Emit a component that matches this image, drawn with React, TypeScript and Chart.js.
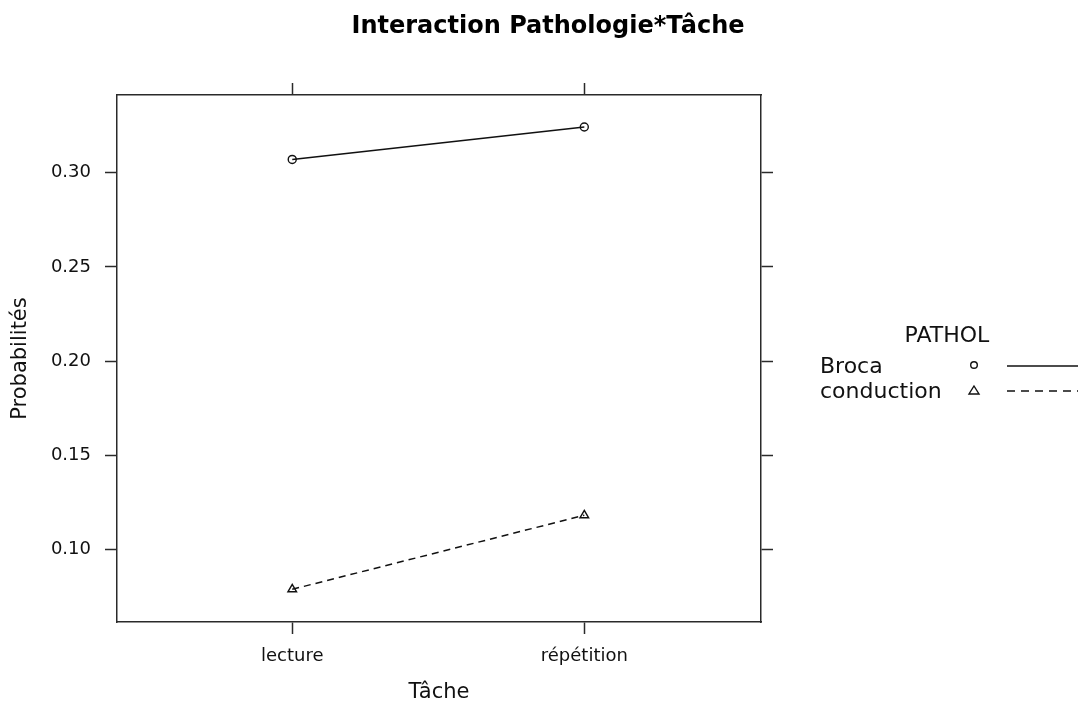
import React, { useEffect, useRef } from 'react';
import { Chart, registerables } from 'chart.js';

Chart.register(...registerables);

const categories = ['lecture', 'répétition'];
const brocaValues = [0.3071, 0.3243];
const conductionValues = [0.0789, 0.1182];
const yTickValues = [0.1, 0.15, 0.2, 0.25, 0.3];
const seriesNames = ['Broca', 'conduction'];
const legendTitle = 'PATHOL';
const chartTitle = 'Interaction Pathologie*Tâche';
const xTitle = 'Tâche';
const yTitle = 'Probabilités';

const FONT = '"DejaVu Sans", "Liberation Sans", sans-serif';
const INK = '#111';
const FRAME = '#2a2a2a';

const decorPlugin = {
  id: 'latticeDecor',
  afterDraw(chart: any) {
    const ctx = chart.ctx as CanvasRenderingContext2D;
    const x0 = chart.chartArea.right;
    ctx.save();
    // main title, centred on the page like lattice does
    ctx.fillStyle = '#000';
    ctx.font = `bold 24px ${FONT}`;
    ctx.textAlign = 'center';
    ctx.textBaseline = 'middle';
    ctx.fillText(chartTitle, chart.width / 2 + 9, 27);

    // legend
    ctx.fillStyle = INK;
    ctx.strokeStyle = INK;
    ctx.font = `22px ${FONT}`;
    ctx.fillText(legendTitle, x0 + 186, 336);
    const rows = [366, 391];
    ctx.textAlign = 'left';
    seriesNames.forEach((name, i) => {
      const y = rows[i];
      ctx.fillText(name, x0 + 59, y + 1);
      ctx.lineWidth = 1.4;
      ctx.setLineDash([]);
      const sx = x0 + 213;
      ctx.beginPath();
      if (i === 0) {
        ctx.arc(sx, y - 1, 3.3, 0, Math.PI * 2);
      } else {
        ctx.moveTo(sx, y - 5);
        ctx.lineTo(sx + 5, y + 3);
        ctx.lineTo(sx - 5, y + 3);
        ctx.closePath();
      }
      ctx.stroke();
      ctx.beginPath();
      ctx.setLineDash(i === 0 ? [] : [8, 6]);
      ctx.lineWidth = 1.5;
      ctx.moveTo(x0 + 246, y);
      ctx.lineTo(chart.width + 5, y);
      ctx.stroke();
    });
    ctx.restore();
  },
};

export default function App() {
  const ref = useRef<HTMLCanvasElement | null>(null);

  useEffect(() => {
    if (!ref.current) return;
    const frameGrid = {
      display: true,
      drawOnChartArea: false,
      drawTicks: true,
      tickLength: 12,
      tickColor: FRAME,
      tickWidth: 1.5,
    };
    const border = { display: true, color: FRAME, width: 1.5 };
    const chart = new Chart(ref.current, {
      type: 'line',
      data: {
        datasets: [
          {
            label: seriesNames[0],
            data: brocaValues.map((y, i) => ({ x: i, y })),
            borderColor: INK,
            borderWidth: 1.5,
            pointStyle: 'circle',
            pointRadius: 4,
            pointBorderWidth: 1.4,
            pointBorderColor: INK,
            pointBackgroundColor: 'rgba(0,0,0,0)',
            tension: 0,
          },
          {
            label: seriesNames[1],
            data: conductionValues.map((y, i) => ({ x: i, y })),
            borderColor: INK,
            borderWidth: 1.5,
            borderDash: [7, 5],
            pointStyle: 'triangle',
            pointRadius: 5,
            pointBorderWidth: 1.4,
            pointBorderColor: INK,
            pointBackgroundColor: 'rgba(0,0,0,0)',
            tension: 0,
          },
        ],
      },
      options: {
        animation: false,
        responsive: true,
        maintainAspectRatio: false,
        layout: { padding: { left: 0, right: 305, top: 83, bottom: 0 } },
        plugins: {
          legend: { display: false },
          tooltip: { enabled: false },
          title: { display: false },
        },
        scales: {
          x: {
            type: 'linear',
            position: 'bottom',
            min: -0.6,
            max: 1.605,
            afterBuildTicks: (s: any) => {
              s.ticks = categories.map((_, i) => ({ value: i }));
            },
            afterFit: (s: any) => {
              s.height = 85;
            },
            ticks: {
              color: INK,
              padding: 12,
              maxRotation: 0,
              font: { family: FONT, size: 18 },
              callback: (v: any) => categories[v as number] ?? '',
            },
            grid: frameGrid,
            border,
            title: {
              display: true,
              text: xTitle,
              color: INK,
              font: { family: FONT, size: 21 },
              padding: { top: 0, bottom: 1.4 },
            },
          },
          x2: {
            type: 'linear',
            position: 'top',
            min: -0.6,
            max: 1.605,
            afterBuildTicks: (s: any) => {
              s.ticks = categories.map((_, i) => ({ value: i }));
            },
            afterFit: (s: any) => {
              s.height = 12;
            },
            ticks: { display: false },
            grid: frameGrid,
            border,
          },
          y: {
            type: 'linear',
            position: 'left',
            min: 0.06155,
            max: 0.3413,
            afterBuildTicks: (s: any) => {
              s.ticks = yTickValues.map((v) => ({ value: v }));
            },
            afterFit: (s: any) => {
              s.width = 117;
            },
            ticks: {
              color: INK,
              padding: 14,
              font: { family: FONT, size: 18 },
              callback: (v: any) => Number(v).toFixed(2),
            },
            grid: frameGrid,
            border,
            title: {
              display: true,
              text: yTitle,
              color: INK,
              font: { family: FONT, size: 21 },
              padding: { top: 8.4, bottom: 0 },
            },
          },
          y2: {
            type: 'linear',
            position: 'right',
            min: 0.06155,
            max: 0.3413,
            afterBuildTicks: (s: any) => {
              s.ticks = yTickValues.map((v) => ({ value: v }));
            },
            afterFit: (s: any) => {
              s.width = 12;
            },
            ticks: { display: false },
            grid: frameGrid,
            border,
          },
        },
      },
      plugins: [decorPlugin],
    } as any);
    return () => chart.destroy();
  }, []);

  return (
    <div style={{ position: 'fixed', left: 0, top: 0, width: 1078, height: 707, background: '#fff' }}>
      <canvas ref={ref} />
    </div>
  );
}
